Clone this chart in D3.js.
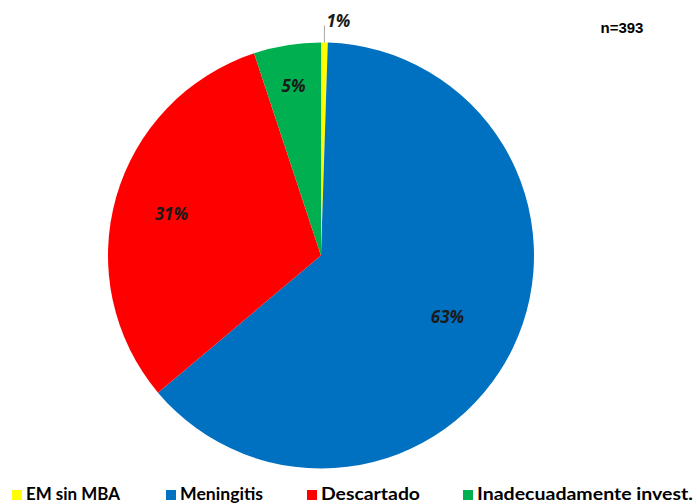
<!DOCTYPE html>
<html>
<head>
<meta charset="utf-8">
<script src="https://cdn.jsdelivr.net/npm/d3@7"></script>
<style>
  html, body { margin: 0; padding: 0; background: #fff; }
  svg { display: block; }
</style>
</head>
<body>
<div id="chart"></div>
<script>
// Data
const categories = ["EM sin MBA", "Meningitis", "Descartado", "Inadecuadamente invest."];
const counts = [2, 249, 122, 20];
const pctLabels = ["1%", "63%", "31%", "5%"];
const colors = ["#FFFF00", "#0070C0", "#FF0000", "#00B050"];
const totalLabel = "n=393";

// Layout
const W = 697, H = 504;
const cx = 321, cy = 255.5, R = 213;
const labelRadiusFrac = [null, 0.66, 0.73, 0.81];
const legendX = [12, 166, 307, 463];
const legendTextW = [94, 83, 99, 216];

const svg = d3.select("#chart").append("svg").attr("width", W).attr("height", H);

const pie = d3.pie().sort(null).value(d => d)(counts);
const arc = d3.arc().innerRadius(0).outerRadius(R);

const g = svg.append("g").attr("transform", `translate(${cx},${cy})`);
g.selectAll("path.slice").data(pie).join("path")
  .attr("class", "slice")
  .attr("d", arc)
  .attr("fill", (d, i) => colors[i]);

const labelFont = "'Open Sans', 'Noto Sans', sans-serif";

// Inside labels
pie.forEach((d, i) => {
  if (labelRadiusFrac[i] == null) return;
  const a = (d.startAngle + d.endAngle) / 2;
  const r = R * labelRadiusFrac[i];
  g.append("text")
    .attr("x", Math.sin(a) * r)
    .attr("y", -Math.cos(a) * r)
    .attr("text-anchor", "middle")
    .attr("dominant-baseline", "central")
    .style("font-family", labelFont)
    .style("font-weight", "bold")
    .style("font-style", "italic")
    .style("font-size", "17px")
    .attr("fill", "#1a1a1a")
    .text(pctLabels[i]);
});

// Outside label for small slice with leader line
{
  const d = pie[0];
  const a = (d.startAngle + d.endAngle) / 2;
  const x0 = Math.sin(a) * R, y0 = -Math.cos(a) * R;
  g.append("path")
    .attr("d", `M${x0},${y0}L${x0},${y0 - 17}`)
    .attr("stroke", "#a6a6a6").attr("stroke-width", 1).attr("fill", "none");
  g.append("text")
    .attr("x", x0 + 2)
    .attr("y", y0 - 22)
    .attr("text-anchor", "start")
    .attr("dominant-baseline", "central")
    .style("font-family", labelFont)
    .style("font-weight", "bold")
    .style("font-style", "italic")
    .style("font-size", "17px")
    .attr("fill", "#1a1a1a")
    .text(pctLabels[0]);
}

// n label
svg.append("text")
  .attr("x", 622).attr("y", 27)
  .attr("text-anchor", "middle")
  .attr("dominant-baseline", "central")
  .style("font-family", "'Liberation Sans', Arial, sans-serif")
  .style("font-weight", "bold")
  .style("font-size", "15px")
  .attr("fill", "#000")
  .text(totalLabel);

// Legend
const leg = svg.append("g");
categories.forEach((c, i) => {
  const gi = leg.append("g").attr("transform", `translate(${legendX[i]},0)`);
  gi.append("rect").attr("x", 0).attr("y", 490).attr("width", 10).attr("height", 10).attr("fill", colors[i]);
  gi.append("text")
    .attr("x", 14).attr("y", 499.5)
    .attr("textLength", legendTextW[i])
    .attr("lengthAdjust", "spacingAndGlyphs")
    .style("font-family", "Lato, 'Noto Sans', sans-serif")
    .style("font-weight", "bold")
    .style("font-size", "16.5px")
    .attr("fill", "#000")
    .text(c);
});
</script>
</body>
</html>
